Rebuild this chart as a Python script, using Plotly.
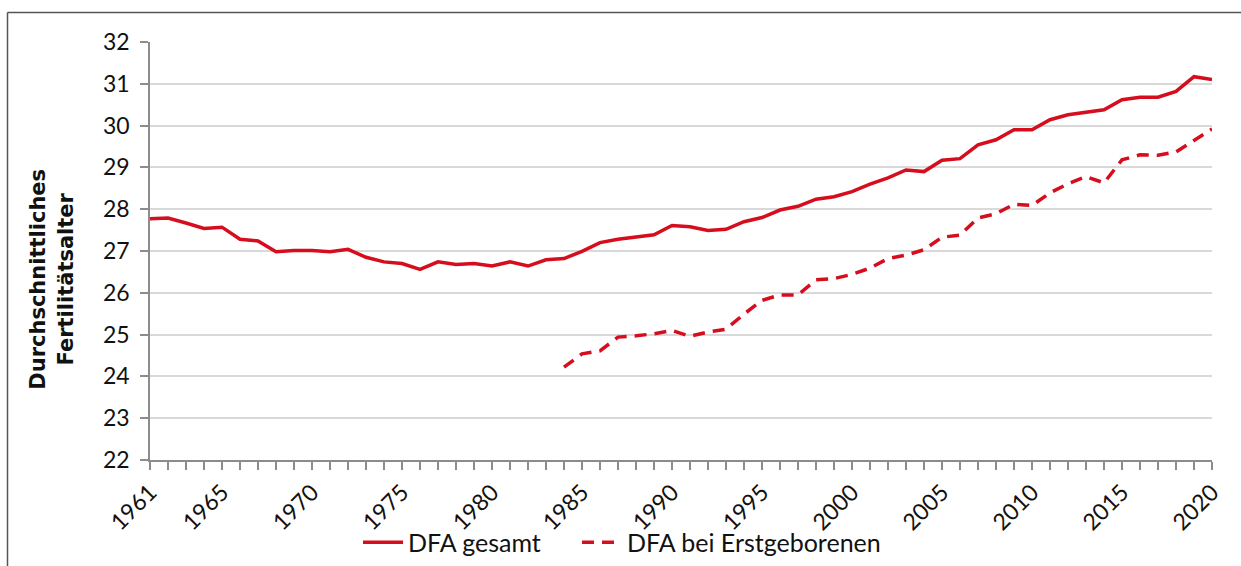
import plotly.graph_objects as go

years = list(range(1961, 2021))
dfa_gesamt = [27.77, 27.79, 27.67, 27.54, 27.57, 27.28, 27.24, 26.98, 27.01, 27.01,
              26.98, 27.04, 26.85, 26.74, 26.70, 26.56, 26.74, 26.68, 26.70, 26.64,
              26.74, 26.64, 26.79, 26.82, 26.99, 27.20, 27.28, 27.33, 27.39, 27.61,
              27.58, 27.49, 27.52, 27.70, 27.80, 27.98, 28.07, 28.24, 28.30, 28.42,
              28.60, 28.75, 28.94, 28.90, 29.17, 29.21, 29.54, 29.66, 29.90, 29.90,
              30.14, 30.26, 30.33, 30.38, 30.62, 30.68, 30.68, 30.82, 31.17, 31.10]
years_first = list(range(1984, 2021))
dfa_erst = [24.22, 24.54, 24.61, 24.94, 24.97, 25.02, 25.10, 24.96, 25.06, 25.13,
            25.49, 25.82, 25.95, 25.95, 26.31, 26.34, 26.44, 26.59, 26.82, 26.90,
            27.03, 27.33, 27.38, 27.79, 27.89, 28.12, 28.09, 28.39, 28.61, 28.78,
            28.63, 29.18, 29.30, 29.29, 29.37, 29.64, 29.92]
tick_years = [1961, 1965, 1970, 1975, 1980, 1985, 1990, 1995, 2000, 2005, 2010, 2015, 2020]
y_ticks = list(range(22, 33))

RED = "#d50d1d"
NARROW = "Lato, Roboto, sans-serif"

fig = go.Figure()
fig.add_trace(go.Scatter(x=years, y=dfa_gesamt, mode="lines", name="DFA gesamt",
                         line=dict(color=RED, width=3.5), legend="legend"))
fig.add_trace(go.Scatter(x=years_first, y=dfa_erst, mode="lines", name="DFA bei Erstgeborenen",
                         line=dict(color=RED, width=3.5, dash="12px,8px"), legend="legend2"))

L, R, T, B = 150, 29, 42, 105.5
W, H = 1241, 566
pw = W - L - R
ph = H - T - B

def px2paper_x(px):
    return (px - L) / pw

def px2paper_y(py):
    return (H - B - py) / ph

legend_common = dict(orientation="h", xanchor="left", y=px2paper_y(543), yanchor="middle",
                     font=dict(family=NARROW, size=25, color="#111"),
                     itemwidth=40, bgcolor="rgba(0,0,0,0)")

fig.update_layout(
    width=W, height=H,
    margin=dict(l=L, r=R, t=T, b=B, autoexpand=False),
    paper_bgcolor="white", plot_bgcolor="white",
    showlegend=True,
    legend=dict(x=px2paper_x(358), **legend_common),
    legend2=dict(x=px2paper_x(577), **legend_common),
    xaxis=dict(range=[1961, 2020], tickmode="array", tickvals=tick_years,
               ticktext=[str(t) for t in tick_years], tickangle=-45,
               showgrid=False, zeroline=False, automargin=False,
               showline=True, linecolor="#8c8c8c", linewidth=1.5,
               ticks="outside", ticklen=8, tickcolor="#8c8c8c", tickwidth=1.5,
               minor=dict(ticks="outside", dtick=1, tick0=1961, ticklen=8,
                          tickcolor="#8c8c8c", tickwidth=1.5, showgrid=False),
               tickfont=dict(family=NARROW, size=23, color="#111")),
    yaxis=dict(range=[22, 32], tickmode="array", tickvals=y_ticks,
               showgrid=True, gridcolor="#d9d9d9", gridwidth=1.5, zeroline=False,
               automargin=False,
               showline=True, linecolor="#8c8c8c", linewidth=1.5,
               ticks="outside", ticklen=8, tickcolor="#8c8c8c", tickwidth=1.5,
               ticklabelstandoff=6,
               tickfont=dict(family=NARROW, size=23, color="#111")),
    annotations=[dict(text="Durchschnittliches<br>Fertilitätsalter", textangle=-90,
                      x=px2paper_x(52), y=px2paper_y(280), xref="paper", yref="paper",
                      xanchor="center", yanchor="middle", showarrow=False,
                      font=dict(family="DejaVu Sans, Verdana, sans-serif", size=21,
                                color="#111", weight="bold"))],
    shapes=[
        dict(type="line", xref="paper", yref="paper",
             x0=px2paper_x(7.5), x1=px2paper_x(1245), y0=px2paper_y(12.5), y1=px2paper_y(12.5),
             line=dict(color="#555555", width=1.5)),
        dict(type="line", xref="paper", yref="paper",
             x0=px2paper_x(7.5), x1=px2paper_x(7.5), y0=px2paper_y(12.5), y1=px2paper_y(570),
             line=dict(color="#555555", width=1.5)),
    ],
)

fig.write_html("out.html", config={"displayModeBar": False},
               post_script="document.body.style.margin='0';document.body.style.overflow='hidden';")
